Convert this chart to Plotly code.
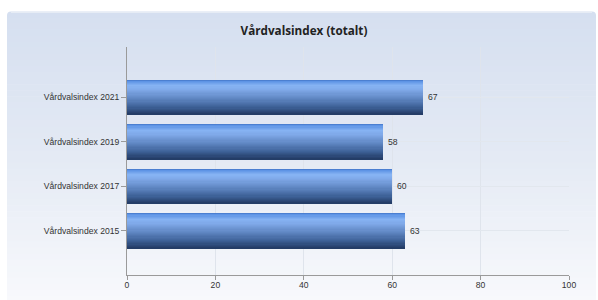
import plotly.graph_objects as go

categories = ["Vårdvalsindex 2015", "Vårdvalsindex 2017", "Vårdvalsindex 2019", "Vårdvalsindex 2021"]
values = [63, 60, 58, 67]
x_ticks = [0, 20, 40, 60, 80, 100]
title_text = "Vårdvalsindex (totalt)"

W, H = 598, 300
ML, MR, MT, MB = 127, 29, 47, 25
PW, PH = W - ML - MR, H - MT - MB


def hex2rgb(h):
    h = h.lstrip("#")
    return tuple(int(h[i:i + 2], 16) for i in (0, 2, 4))


def interp(stops, t):
    for (t0, c0), (t1, c1) in zip(stops, stops[1:]):
        if t0 <= t <= t1:
            f = 0 if t1 == t0 else (t - t0) / (t1 - t0)
            a, b = hex2rgb(c0), hex2rgb(c1)
            return "rgb(%d,%d,%d)" % tuple(round(a[i] + (b[i] - a[i]) * f) for i in range(3))
    return stops[-1][1]


fig = go.Figure()

# bar gradient (top -> bottom), built from overlaid slices
bar_h = 0.785
bar_stops = [(0.0, "#3f72c4"), (0.04, "#5b92e4"), (0.18, "#86b3f3"), (0.3, "#7fa8e8"),
             (0.55, "#5f86c2"), (0.8, "#3c5f95"), (1.0, "#223a63")]
N = 30
for i in range(N):
    t = (i + 0.5) / N
    off = bar_h / 2 - (i + 1) * bar_h / N
    fig.add_trace(go.Bar(
        x=values, y=categories, orientation="h",
        width=bar_h / N + 0.002, offset=off,
        marker=dict(color=interp(bar_stops, t), line=dict(width=0)),
        hoverinfo="skip", showlegend=False,
    ))

tick_font = dict(family="Liberation Sans, Arial", size=8.6, color="#333333")

annotations = [dict(x=v, y=c, xref="x", yref="y", text=str(v), showarrow=False,
                    xanchor="left", yanchor="middle", xshift=3, font=tick_font)
               for v, c in zip(values, categories)]

# panel background gradient
shapes = []
px2x = lambda p: (p - ML) / PW
px2y = lambda p: (H - MB - p) / PH
top, bottom, left, right = 11.5, 302, 7, 596
bg_stops = [(0.0, "#d5dff0"), (0.5, "#e4eaf4"), (1.0, "#f8f9fc")]
S = 48
for k in range(S):
    y0 = top + (bottom - top) * k / S
    y1 = top + (bottom - top) * (k + 1) / S + 0.6
    col = interp(bg_stops, (k + 0.5) / S)
    if k == 0:
        r = 4
        path = ("M {x0},{yb} L {x0},{ya} Q {x0},{yt} {x0r},{yt} L {x1r},{yt} Q {x1},{yt} {x1},{ya} L {x1},{yb} Z").format(
            x0=px2x(left), x1=px2x(right), x0r=px2x(left + r), x1r=px2x(right - r),
            yt=px2y(y0), ya=px2y(y0 + r), yb=px2y(y1))
        shapes.append(dict(type="path", xref="paper", yref="paper", path=path,
                           fillcolor=col, line=dict(width=0), layer="below"))
    else:
        shapes.append(dict(type="rect", xref="paper", yref="paper",
                           x0=px2x(left), x1=px2x(right), y0=px2y(y0), y1=px2y(y1),
                           fillcolor=col, line=dict(width=0), layer="below"))
shapes.append(dict(type="line", xref="paper", yref="paper",
                   x0=px2x(left + 4), x1=px2x(right - 4), y0=px2y(12.5), y1=px2y(12.5),
                   line=dict(color="#e6ecf5", width=1), layer="below"))

fig.update_layout(
    width=W, height=H,
    margin=dict(l=ML, r=MR, t=MT, b=MB, autoexpand=False),
    paper_bgcolor="white", plot_bgcolor="rgba(0,0,0,0)",
    barmode="overlay", bargap=0,
    shapes=shapes, annotations=annotations,
    title=dict(text="<b>" + title_text + "</b>", x=304 / W, xref="container", xanchor="center",
               y=1 - 31 / H, yref="container", yanchor="middle",
               font=dict(family="Open Sans", size=11.7, color="#222222")),
    xaxis=dict(range=[0, 100], tickvals=x_ticks, ticktext=[str(v) for v in x_ticks],
               showgrid=True, gridcolor="#dfe4ec", gridwidth=1, zeroline=False,
               showline=True, linecolor="#9a9a9a", linewidth=1,
               ticks="outside", ticklen=4, tickcolor="#9a9a9a", ticklabelstandoff=-2,
               tickfont=tick_font, automargin=False, fixedrange=True),
    yaxis=dict(type="category", categoryorder="array", categoryarray=categories,
               range=[-0.99, 4.13],
               showgrid=True, gridcolor="#e2e7ee", gridwidth=1, zeroline=False,
               showline=True, linecolor="#9a9a9a", linewidth=1,
               ticks="outside", ticklen=5, tickcolor="#9a9a9a",
               tickfont=tick_font, automargin=False, fixedrange=True),
)

fig.write_html("out.html", config={"displayModeBar": False},
               post_script="document.body.style.margin='0';")
